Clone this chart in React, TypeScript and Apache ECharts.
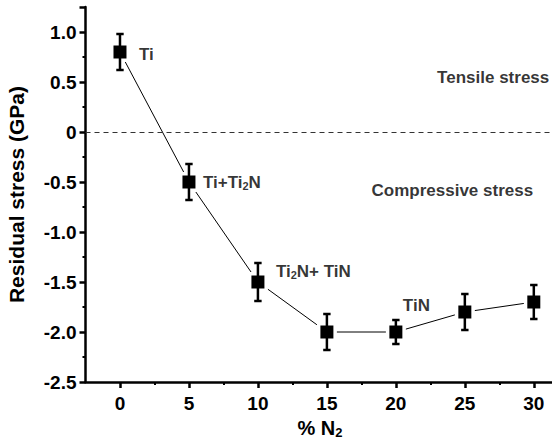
import React, { useEffect, useRef } from "react";
import * as echarts from "echarts";

const nitrogen = [0, 5, 10, 15, 20, 25, 30];
const stress = [0.8, -0.5, -1.5, -2.0, -2.0, -1.8, -1.7];
const stressError = [0.18, 0.18, 0.19, 0.18, 0.12, 0.18, 0.17];
const phaseLabels = ["{b|Ti}", "{b|Ti+Ti}{s|2}{b|N}", "{b|Ti}{s|2}{b|N+ TiN}", "", "{b|TiN}", "", ""];
const regionLabels = ["Tensile stress", "Compressive stress"];
const regionX = [31.12, 29.95];
const regionY = [0.55, -0.58];
const xMajorTicks = [0, 5, 10, 15, 20, 25, 30];
const xMinorTicks = [2.5, 7.5, 12.5, 17.5, 22.5, 27.5];

const FONT = "'Liberation Sans', Arial, sans-serif";
const labelOffsets: Record<number, [number, number]> = {
  0: [19, 2],
  1: [14, 0],
  2: [18, -11],
  4: [7, -27],
};

export default function App() {
  const ref = useRef<HTMLDivElement>(null);
  useEffect(() => {
    if (!ref.current) return;
    const chart = echarts.init(ref.current, null, { renderer: "svg" });
    const pts = nitrogen.map((x, i) => [x, stress[i]]);
    const rich = {
      b: { fontSize: 17, fontWeight: "bold", fontFamily: FONT, color: "#000" },
      s: { fontSize: 11, fontWeight: "bold", fontFamily: FONT, color: "#000", padding: [8, 0, 0, 0] },
    };
    const option: any = {
      animation: false,
      grid: { left: 85.5, right: -2.5, top: 7, bottom: 62, containLabel: false, outerBoundsMode: "none" },
      xAxis: [
        {
          type: "value",
          min: -2.5,
          max: 31.5,
          splitLine: { show: false },
          axisLine: { show: true, onZero: false, lineStyle: { color: "#000", width: 2.5 } },
          axisTick: { show: true, customValues: xMajorTicks, length: 6, lineStyle: { color: "#000", width: 2.5 } },
          axisLabel: {
            customValues: xMajorTicks,
            margin: 12,
            fontSize: 19,
            fontWeight: "bold",
            color: "#000",
            fontFamily: FONT,
          },
          name: "{b|% N}{s|2}",
          nameLocation: "middle",
          nameGap: 31,
          nameTextStyle: {
            rich: {
              b: { fontSize: 20, fontWeight: "bold", fontFamily: FONT, color: "#000" },
              s: { fontSize: 13, fontWeight: "bold", fontFamily: FONT, color: "#000", padding: [9, 0, 0, 0] },
            },
          },
        },
        {
          type: "value",
          min: -2.5,
          max: 31.5,
          position: "bottom",
          splitLine: { show: false },
          axisLine: { show: false, onZero: false },
          axisTick: { show: true, customValues: xMinorTicks, length: 3, lineStyle: { color: "#000", width: 2 } },
          axisLabel: { show: false },
        },
      ],
      yAxis: {
        type: "value",
        min: -2.5,
        max: 1.25,
        interval: 0.5,
        splitLine: { show: false },
        axisLine: { show: true, onZero: false, lineStyle: { color: "#000", width: 2.5 } },
        axisTick: { show: true, length: 6, lineStyle: { color: "#000", width: 2.5 } },
        minorTick: { show: true, splitNumber: 2, length: 3, lineStyle: { color: "#000", width: 2 } },
        minorSplitLine: { show: false },
        axisLabel: {
          margin: 9,
          fontSize: 19,
          fontWeight: "bold",
          color: "#000",
          fontFamily: FONT,
          showMaxLabel: false,
          formatter: (v: number) => (Math.abs(v) < 1e-9 ? "0" : v.toFixed(1)),
        },
        name: "Residual stress (GPa)",
        nameLocation: "middle",
        nameGap: 59,
        nameTextStyle: { fontSize: 21, fontWeight: "bold", fontFamily: FONT, color: "#000" },
      },
      series: [
        {
          type: "line",
          data: pts,
          symbol: "none",
          z: 1,
          lineStyle: { color: "#000", width: 1 },
          markLine: {
            silent: true,
            symbol: ["none", "none"],
            label: { show: false },
            lineStyle: { type: [5, 4], color: "#333", width: 1 },
            data: [{ yAxis: 0 }],
          },
        },
        {
          type: "scatter",
          data: pts,
          symbol: "rect",
          symbolSize: 20,
          z: 2,
          itemStyle: { color: "#fff", opacity: 1 },
        },
        {
          type: "custom",
          z: 3,
          data: nitrogen.map((x, i) => [x, stress[i], stressError[i]]),
          renderItem: (params: any, api: any) => {
            const x = api.value(0);
            const y = api.value(1);
            const e = api.value(2);
            const top = api.coord([x, y + e]);
            const bot = api.coord([x, y - e]);
            const w = 3.7;
            const style = { stroke: "#000", lineWidth: 2.5 };
            return {
              type: "group",
              children: [
                { type: "line", shape: { x1: top[0], y1: top[1], x2: bot[0], y2: bot[1] }, style },
                { type: "line", shape: { x1: top[0] - w, y1: top[1], x2: top[0] + w, y2: top[1] }, style },
                { type: "line", shape: { x1: bot[0] - w, y1: bot[1], x2: bot[0] + w, y2: bot[1] }, style },
              ],
            };
          },
        },
        {
          type: "scatter",
          data: pts,
          symbol: "rect",
          symbolSize: 13,
          z: 4,
          itemStyle: { color: "#000", opacity: 1 },
        },
        {
          type: "scatter",
          z: 5,
          symbolSize: 0,
          data: pts
            .map((p, i) => ({ i, p }))
            .filter((d) => phaseLabels[d.i] !== "")
            .map((d) => ({
              value: d.p,
              label: {
                show: true,
                position: "right",
                distance: 0,
                offset: labelOffsets[d.i] || [0, 0],
                formatter: phaseLabels[d.i],
                rich,
              },
            })),
        },
        {
          type: "scatter",
          z: 5,
          symbolSize: 0,
          data: regionLabels.map((t, i) => ({
            value: [regionX[i], regionY[i]],
            label: {
              show: true,
              position: "left",
              distance: 0,
              formatter: t,
              fontSize: 17,
              fontWeight: "bold",
              fontFamily: FONT,
              color: "#000",
            },
          })),
        },
      ],
    };
    chart.setOption(option);
    return () => chart.dispose();
  }, []);
  return (
    <div
      ref={ref}
      style={{ position: "fixed", left: 0, top: 0, width: 552, height: 444, background: "#fff" }}
    />
  );
}
